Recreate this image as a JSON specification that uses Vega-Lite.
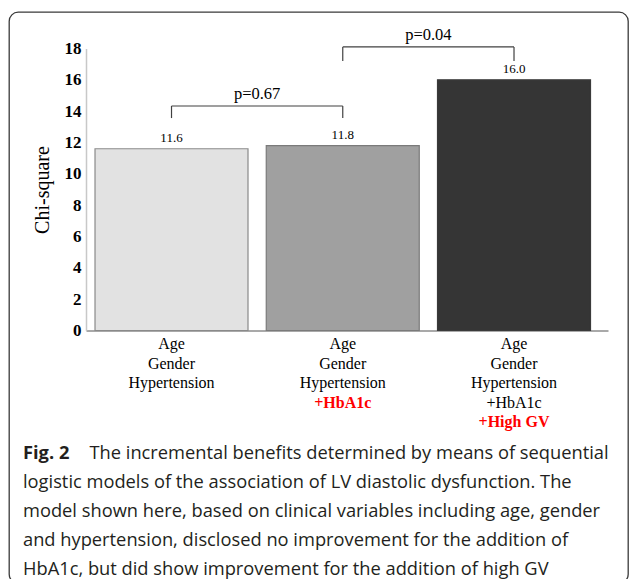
{
  "$schema": "https://vega.github.io/schema/vega-lite/v6.json",
  "autosize": {"type": "none"},
  "padding": {"left": 9, "top": 12, "right": 1, "bottom": -4},
  "width": 619,
  "height": 571,
  "background": "white",
  "config": {"view": {"stroke": "#3a3a3a", "strokeWidth": 1.3, "cornerRadius": 9}},
  "datasets": {
    "bars": [
      {"cat": "c1", "value": 11.6},
      {"cat": "c2", "value": 11.8},
      {"cat": "c3", "value": 16.0}
    ],
    "brackets": [
      {"from": "c1", "to": "c2", "top": 14.33, "low": 13.56, "p": "p=0.67"},
      {"from": "c2", "to": "c3", "top": 18.1, "low": 17.2, "p": "p=0.04"}
    ]
  },
  "title": {
    "text": "Fig. 2",
    "subtitle": [
      "\u200b\u00a0\u00a0\u00a0\u00a0\u00a0\u00a0\u00a0\u00a0\u00a0\u00a0\u00a0\u00a0\u00a0\u00a0The incremental benefits determined by means of sequential",
      "logistic models of the association of LV diastolic dysfunction. The",
      "model shown here, based on clinical variables including age, gender",
      "and hypertension, disclosed no improvement for the addition of",
      "HbA1c, but did show improvement for the addition of high GV"
    ],
    "orient": "bottom",
    "anchor": "start",
    "frame": "group",
    "offset": -138,
    "dx": 14,
    "baseline": "top",
    "font": "Open Sans",
    "fontSize": 18.3,
    "fontWeight": "bold",
    "color": "#231f20",
    "subtitleFont": "Open Sans",
    "subtitleFontSize": 18.3,
    "subtitleFontWeight": "normal",
    "subtitleColor": "#231f20",
    "subtitleLineHeight": 29,
    "subtitlePadding": -18.3
  },
  "resolve": {"axis": {"x": "independent", "y": "independent"}},
  "layer": [
    {
      "data": {"name": "bars"},
      "mark": {"type": "bar", "strokeWidth": 1.2},
      "encoding": {
        "x": {
          "field": "cat", "type": "nominal", "sort": ["c1", "c2", "c3"],
          "scale": {"range": [77, 599], "paddingInner": 0.1066, "paddingOuter": 0.0774, "align": 0.34},
          "axis": {
            "orient": "bottom", "offset": -252.5, "title": null,
            "domain": true, "domainColor": "#8c8c8c", "domainWidth": 1.3,
            "ticks": false, "tickSize": 0, "grid": false, "labelAngle": 0,
            "labelPadding": 18, "labelBaseline": "alphabetic",
            "labelFont": "Liberation Serif", "labelFontSize": 16, "labelColor": "#000000",
            "labelLineHeight": 19.5, "labelOverlap": false, "labelLimit": 0,
            "labelExpr": "datum.value == 'c3' ? ['Age','Gender','Hypertension','+HbA1c'] : ['Age','Gender','Hypertension']"
          }
        },
        "y": {
          "field": "value", "type": "quantitative",
          "scale": {"domain": [0, 18], "range": [318.5, 36.5], "nice": false},
          "axis": {
            "orient": "left",
            "title": "Chi-square", "values": [0, 2, 4, 6, 8, 10, 12, 14, 16, 18],
            "grid": false, "ticks": false, "tickSize": 0, "offset": -77,
            "domainColor": "#c8c8c8", "domainWidth": 1.5,
            "labelFont": "Liberation Serif", "labelFontSize": 17, "labelFontWeight": "bold",
            "labelColor": "#000000", "labelPadding": 5,
            "titleFont": "Liberation Serif", "titleFontSize": 20, "titleFontWeight": "normal",
            "titleColor": "#000000", "titlePadding": 12
          }
        },
        "fill": {"field": "cat", "type": "nominal", "scale": {"domain": ["c1", "c2", "c3"], "range": ["#e2e2e2", "#a0a0a0", "#353535"]}, "legend": null},
        "stroke": {"field": "cat", "type": "nominal", "scale": {"domain": ["c1", "c2", "c3"], "range": ["#8a8a8a", "#7a7a7a", "#3a3a3a"]}, "legend": null}
      }
    },
    {
      "data": {"name": "bars"},
      "mark": {"type": "text", "dy": -7, "baseline": "alphabetic", "font": "Liberation Serif", "fontSize": 13, "color": "#000000"},
      "encoding": {
        "x": {
          "field": "cat", "type": "nominal",
          "axis": {
            "orient": "bottom", "offset": -252.5, "title": null,
            "domain": false, "ticks": false, "tickSize": 0, "grid": false, "labelAngle": 0,
            "labelPadding": 18, "labelBaseline": "alphabetic",
            "labelFont": "Liberation Serif", "labelFontSize": 16, "labelFontWeight": "bold", "labelColor": "#ff0000",
            "labelLineHeight": 19.5, "labelOverlap": false, "labelLimit": 0,
            "labelExpr": "datum.value == 'c2' ? ['\u200b','\u200b','\u200b','+HbA1c'] : datum.value == 'c3' ? ['\u200b','\u200b','\u200b','\u200b','+High GV'] : '\u200b'"
          }
        },
        "y": {"field": "value", "type": "quantitative", "axis": null},
        "text": {"field": "value", "type": "quantitative", "format": ".1f"}
      }
    },
    {
      "data": {"name": "brackets"},
      "mark": {"type": "rule", "stroke": "#404040", "strokeWidth": 1.2},
      "encoding": {
        "x": {"field": "from", "type": "nominal", "bandPosition": 0.5, "axis": null},
        "x2": {"field": "to", "bandPosition": 0.5},
        "y": {"field": "top", "type": "quantitative", "axis": null}
      }
    },
    {
      "data": {"name": "brackets"},
      "mark": {"type": "rule", "stroke": "#404040", "strokeWidth": 1.2},
      "encoding": {
        "x": {"field": "from", "type": "nominal", "bandPosition": 0.5, "axis": null},
        "y": {"field": "top", "type": "quantitative", "axis": null},
        "y2": {"field": "low"}
      }
    },
    {
      "data": {"name": "brackets"},
      "mark": {"type": "rule", "stroke": "#404040", "strokeWidth": 1.2},
      "encoding": {
        "x": {"field": "to", "type": "nominal", "bandPosition": 0.5, "axis": null},
        "y": {"field": "top", "type": "quantitative", "axis": null},
        "y2": {"field": "low"}
      }
    },
    {
      "data": {"name": "brackets"},
      "mark": {"type": "text", "dx": 85.6, "dy": -7, "baseline": "alphabetic", "font": "Liberation Serif", "fontSize": 16.5, "color": "#000000"},
      "encoding": {
        "x": {"field": "from", "type": "nominal", "bandPosition": 0.5, "axis": null},
        "y": {"field": "top", "type": "quantitative", "axis": null},
        "text": {"field": "p"}
      }
    }
  ]
}
